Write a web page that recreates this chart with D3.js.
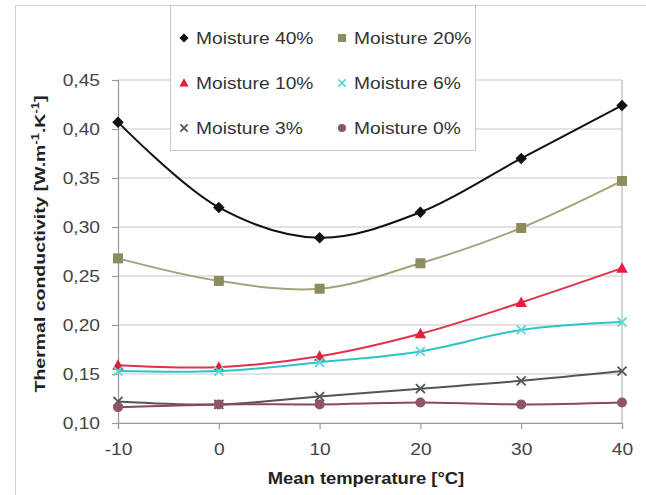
<!DOCTYPE html>
<html>
<head>
<script src="https://cdn.jsdelivr.net/npm/d3@7"></script>
<style>
  body { margin: 0; background: #fff; }
  svg { font-family: "Liberation Sans", Arial, sans-serif; }
</style>
</head>
<body>
<svg id="chart" width="646" height="495"></svg>
<script>
// data
var temps = [-10, 0, 10, 20, 30, 40];
var m40 = [0.407, 0.320, 0.289, 0.315, 0.370, 0.424];
var m20 = [0.268, 0.245, 0.237, 0.263, 0.299, 0.347];
var m10 = [0.159, 0.157, 0.168, 0.191, 0.223, 0.258];
var m6  = [0.153, 0.153, 0.162, 0.173, 0.195, 0.203];
var m3  = [0.122, 0.119, 0.127, 0.135, 0.143, 0.153];
var m0  = [0.116, 0.119, 0.119, 0.121, 0.119, 0.121];
var yTicks = [0.10, 0.15, 0.20, 0.25, 0.30, 0.35, 0.40, 0.45];
var xTicks = [-10, 0, 10, 20, 30, 40];

var series = [
  {name: "Moisture 40%", vals: m40, line: "#111", fill: "#111", sym: "diamond"},
  {name: "Moisture 20%", vals: m20, line: "#a3a37a", fill: "#8c8c5e", sym: "square"},
  {name: "Moisture 10%", vals: m10, line: "#e0304a", fill: "#e0203c", sym: "triangle"},
  {name: "Moisture 6%", vals: m6, line: "#2cc4c8", fill: "#5fd6d6", sym: "x"},
  {name: "Moisture 3%", vals: m3, line: "#555", fill: "#555", sym: "x"},
  {name: "Moisture 0%", vals: m0, line: "#8a4a58", fill: "#8e5565", sym: "circle"}
];

var svg = d3.select("#chart");
var margin = {left: 118, right: 24, top: 80, bottom: 72};
var width = 646 - margin.left - margin.right;
var height = 495 - margin.top - margin.bottom;

// stretch text horizontally like the (widened) original picture
function widen(sel, k) {
  sel.each(function() {
    var w = this.getComputedTextLength();
    d3.select(this).attr("textLength", w * k).attr("lengthAdjust", "spacingAndGlyphs");
  });
}

// outer chart frame
svg.append("rect").attr("x", 15.5).attr("y", 5.5).attr("width", 640).attr("height", 500)
  .attr("fill", "none").attr("stroke", "#d0d0d0");

var g = svg.append("g").attr("transform", "translate(" + margin.left + "," + margin.top + ")");

var x = d3.scaleLinear().domain([-10, 40]).range([0, width]);
var y = d3.scaleLinear().domain([0.10, 0.45]).range([height, 0]);

// gridlines
g.append("g").selectAll("line").data(yTicks).enter().append("line")
  .attr("x1", 0).attr("x2", width)
  .attr("y1", function(d) { return y(d); }).attr("y2", function(d) { return y(d); })
  .attr("stroke", "#c8c8c8").attr("stroke-width", 1.2);
g.append("line").attr("x1", width).attr("x2", width).attr("y1", 0).attr("y2", height)
  .attr("stroke", "#b8b8b8").attr("stroke-width", 1.2);

var fmt = function(d) { return d3.format(".2f")(d).replace(".", ","); };
var yAxis = g.append("g").call(d3.axisLeft(y).tickValues(yTicks).tickFormat(fmt).tickSize(6).tickPadding(12));
var xAxis = g.append("g").attr("transform", "translate(0," + height + ")")
  .call(d3.axisBottom(x).tickValues(xTicks).tickFormat(function(d) { return String(d); }).tickSize(6).tickPadding(15));
[yAxis, xAxis].forEach(function(a) {
  a.selectAll("path, line").attr("stroke", "#999").attr("stroke-width", 1.2);
  a.selectAll("text").attr("font-size", 16).attr("fill", "#444").attr("font-family", "Liberation Sans, Arial");
  widen(a.selectAll("text"), 1.2);
});

// axis titles
var xt = svg.append("text").attr("x", margin.left + width / 2 - 4).attr("y", 484).attr("text-anchor", "middle")
  .attr("font-size", 16).attr("font-weight", "bold").attr("fill", "#222").text("Mean temperature [°C]");
widen(xt, 1.15);
var yt = svg.append("text").attr("transform", "translate(45,244) rotate(-90) scale(1.3,1)")
  .attr("text-anchor", "middle").attr("font-size", 15).attr("font-weight", "bold").attr("fill", "#222");
yt.append("tspan").text("Thermal conductivity [W.m");
yt.append("tspan").attr("dy", -6).attr("font-size", 10).text("-1");
yt.append("tspan").attr("dy", 6).text(".K");
yt.append("tspan").attr("dy", -6).attr("font-size", 10).text("-1");
yt.append("tspan").attr("dy", 6).text("]");

var line = d3.line().curve(d3.curveCatmullRom.alpha(0.5))
  .x(function(d) { return x(d[0]); }).y(function(d) { return y(d[1]); });

function drawMarker(sel, s, size) {
  var r = size / 2;
  if (s.sym === "x") {
    var q = r * 0.9;
    sel.append("path").attr("d", "M" + (-q) + "," + (-q) + "L" + q + "," + q + "M" + (-q) + "," + q + "L" + q + "," + (-q))
      .attr("stroke", s.fill).attr("stroke-width", 1.8).attr("fill", "none");
  } else if (s.sym === "diamond") {
    var d = r * 1.15;
    sel.append("path").attr("d", "M0," + (-d) + "L" + d + ",0L0," + d + "L" + (-d) + ",0Z").attr("fill", s.fill);
  } else if (s.sym === "square") {
    sel.append("rect").attr("x", -r).attr("y", -r).attr("width", size).attr("height", size).attr("fill", s.fill);
  } else if (s.sym === "triangle") {
    sel.append("path").attr("d", "M0," + (-r * 1.2) + "L" + (r * 1.15) + "," + (r * 0.9) + "L" + (-r * 1.15) + "," + (r * 0.9) + "Z").attr("fill", s.fill);
  } else {
    sel.append("circle").attr("r", r).attr("fill", s.fill);
  }
}

series.forEach(function(s) {
  var pts = temps.map(function(t, i) { return [t, s.vals[i]]; });
  g.append("path").datum(pts).attr("d", line).attr("fill", "none")
    .attr("stroke", s.line).attr("stroke-width", 2);
  g.append("g").selectAll("g").data(pts).enter().append("g")
    .attr("transform", function(d) { return "translate(" + x(d[0]) + "," + y(d[1]) + ")"; })
    .each(function() { drawMarker(d3.select(this), s, 10); });
});

// legend
var lg = svg.append("g");
lg.append("rect").attr("x", 170.5).attr("y", 5.5).attr("width", 305).attr("height", 145)
  .attr("fill", "#fff").attr("stroke", "#c8c8c8");
series.forEach(function(s, i) {
  var col = i % 2, row = Math.floor(i / 2);
  var cx = col === 0 ? 184 : 342, cy = 38 + row * 45;
  var it = lg.append("g").attr("transform", "translate(" + cx + "," + cy + ")");
  drawMarker(it, s, 8);
  var t = it.append("text").attr("x", 12).attr("y", 6).attr("font-size", 16).attr("fill", "#333").text(s.name);
  widen(t, 1.2);
});
</script>
</body>
</html>
